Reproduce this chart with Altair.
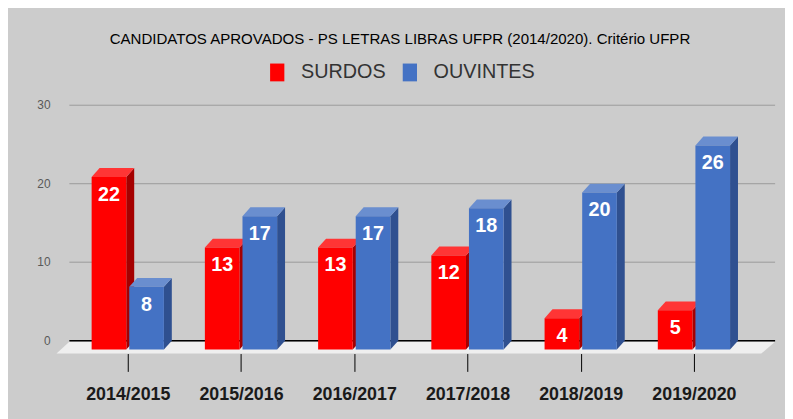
import json
import altair as alt
import pandas as pd

# ---------------- data ----------------
years = ["2014/2015", "2015/2016", "2016/2017", "2017/2018", "2018/2019", "2019/2020"]
series = ["SURDOS", "OUVINTES"]
surdos = [22, 13, 13, 12, 4, 5]
ouvintes = [8, 17, 17, 18, 20, 26]
y_ticks = [0, 10, 20, 30]

title_text = "CANDIDATOS APROVADOS - PS LETRAS LIBRAS UFPR (2014/2020). Critério UFPR"

# ---------------- style / layout ----------------
FONT = "Liberation Sans"
BG = "#cccccc"
front_col = {"SURDOS": "#ff0000", "OUVINTES": "#4472c4"}
top_col = {"SURDOS": "#ff3535", "OUVINTES": "#6a8ecf"}
side_col = {"SURDOS": "#a50000", "OUVINTES": "#2f5090"}

PAGE = 8
PLOT_L, PLOT_R = 57, 783      # page px
PLOT_T, PLOT_B = 100, 355
PXY = 7.93                    # px per unit (value)
FRONT0 = 351                  # page y of value 0 on the front plane
PXX = 114.4                   # px per category step
XC0 = 129                     # page x of first category centre


def yv(py):
    return (FRONT0 - py) / PXY


def xv(px):
    return (px - XC0) / PXX


y_dom = [yv(PLOT_B), yv(PLOT_T)]
x_dom = [xv(PLOT_L), xv(PLOT_R)]
BACK = 9 / PXY       # back wall offset (units)
DY = 9 / PXY         # bar depth, vertical (units)
DX = 8 / PXX         # bar depth, horizontal (units)
BAR_W = 35 / PXX
GAP = 3 / PXX

xs = alt.Scale(domain=x_dom, nice=False, zero=False)
ys = alt.Scale(domain=y_dom, nice=False, zero=False)

label_expr = json.dumps(years) + "[datum.value]"
x_axis = alt.Axis(
    values=list(range(len(years))), labelExpr=label_expr, title=None,
    domain=False, grid=False, ticks=True, tickColor="#000000", tickSize=18,
    tickWidth=1, labelFont=FONT, labelFontSize=18, labelFontWeight="bold",
    labelColor="#1a1a1a", labelPadding=14,
)

# ---------------- tables ----------------
bars = []
faces = []
for s, vals in zip(series, [surdos, ouvintes]):
    for i, v in enumerate(vals):
        if s == series[0]:
            x0 = i - GAP / 2 - BAR_W
        else:
            x0 = i + GAP / 2
        x1 = x0 + BAR_W
        bars.append({"series": s, "x0": x0, "x1": x1, "xc": (x0 + x1) / 2,
                     "value": v, "base": 0.0, "label": str(v)})
        bid = f"{s}-{i}"
        # side face (parallelogram)
        faces.append({"series": s, "id": bid + "-side", "x": x1, "y": v, "y2": 0.0, "fill": side_col[s]})
        faces.append({"series": s, "id": bid + "-side", "x": x1 + DX, "y": v + DY, "y2": DY, "fill": side_col[s]})
        # top face (parallelogram)
        for xx, yy, yy2 in [(x0, v, v), (x0 + DX, v + DY, v), (x1, v + DY, v), (x1 + DX, v + DY, v + DY)]:
            faces.append({"series": s, "id": bid + "-top", "x": xx, "y": yy, "y2": yy2, "fill": top_col[s]})

bars_df = pd.DataFrame(bars)
faces_df = pd.DataFrame(faces)

floor_df = pd.DataFrame({
    "x": [xv(57), xv(70), xv(769), xv(783)],
    "y": [yv(355), yv(343), yv(343), yv(343)],
    "y2": [yv(355), yv(355), yv(355), yv(343)],
})

grid_df = pd.DataFrame({
    "t": y_ticks,
    "yb": [t + BACK for t in y_ticks],
    "x0": [xv(70)] * len(y_ticks),
    "x1": [xv(783)] * len(y_ticks),
})

# ---------------- layers ----------------
floor = alt.Chart(floor_df).mark_area(color="#efefef", interpolate="linear").encode(
    x=alt.X("x:Q", scale=xs, axis=x_axis),
    y=alt.Y("y:Q", scale=ys, axis=None),
    y2="y2:Q",
)

grid = alt.Chart(grid_df).transform_filter("datum.t > 0").mark_rule(
    color="#9a9a9a", strokeWidth=1
).encode(
    x=alt.X("x0:Q", scale=xs, axis=x_axis), x2="x1:Q",
    y=alt.Y("yb:Q", scale=ys, axis=None),
)

zero_line = alt.Chart(grid_df).transform_filter("datum.t == 0").mark_rule(
    color="#000000", strokeWidth=1.5
).encode(
    x=alt.X("x0:Q", scale=xs, axis=x_axis), x2="x1:Q",
    y=alt.Y("yb:Q", scale=ys, axis=None),
)

ylabels = alt.Chart(grid_df).mark_text(
    align="right", baseline="middle", font=FONT, fontSize=12, color="#595959"
).encode(
    x=alt.value(-6),
    y=alt.Y("yb:Q", scale=ys, axis=None),
    text="t:N",
)

legend = alt.Legend(
    title=None, orient="none", legendX=213, legendY=-39, direction="horizontal",
    symbolType="M-0.8,-1H0.8V1H-0.8Z", symbolSize=324, symbolStrokeWidth=0,
    symbolOpacity=1, labelFont=FONT, labelFontSize=20, labelColor="#333333",
    labelOffset=14, columnPadding=14, padding=0,
)
color = alt.Color("series:N", scale=alt.Scale(domain=series, range=[front_col[s] for s in series]),
                  legend=legend)

layers = [floor, grid, zero_line, ylabels]
for s in series:
    f = alt.Chart(faces_df).transform_filter(alt.datum.series == s).mark_area(
        interpolate="linear"
    ).encode(
        x=alt.X("x:Q", scale=xs, axis=x_axis),
        y=alt.Y("y:Q", scale=ys, axis=None),
        y2="y2:Q",
        fill=alt.Fill("fill:N", scale=None),
        detail="id:N",
    )
    b = alt.Chart(bars_df).transform_filter(alt.datum.series == s).mark_rect().encode(
        x=alt.X("x0:Q", scale=xs, axis=x_axis), x2="x1:Q",
        y=alt.Y("value:Q", scale=ys, axis=None), y2="base:Q",
        color=color,
    )
    layers += [f, b]

labels = alt.Chart(bars_df).mark_text(
    color="white", font=FONT, fontSize=20, fontWeight="bold", baseline="middle", dy=18
).encode(
    x=alt.X("xc:Q", scale=xs, axis=x_axis),
    y=alt.Y("value:Q", scale=ys, axis=None),
    text="label:N",
)
layers.append(labels)

chart = alt.layer(*layers).properties(
    width=PLOT_R - PLOT_L,
    height=PLOT_B - PLOT_T,
    padding={"left": PLOT_L - PAGE, "top": PLOT_T - PAGE, "right": 10, "bottom": 411 - (PLOT_B - PAGE)},
    autosize=alt.AutoSizeParams(type="none"),
    background=BG,
    title=alt.TitleParams(
        text=title_text, font=FONT, fontSize=15.2, fontWeight="normal", color="#000000",
        anchor="middle", dx=-16, offset=16,
    ),
).configure_view(strokeWidth=0)

chart.save("out.html", embed_options={"renderer": "svg", "actions": False})
